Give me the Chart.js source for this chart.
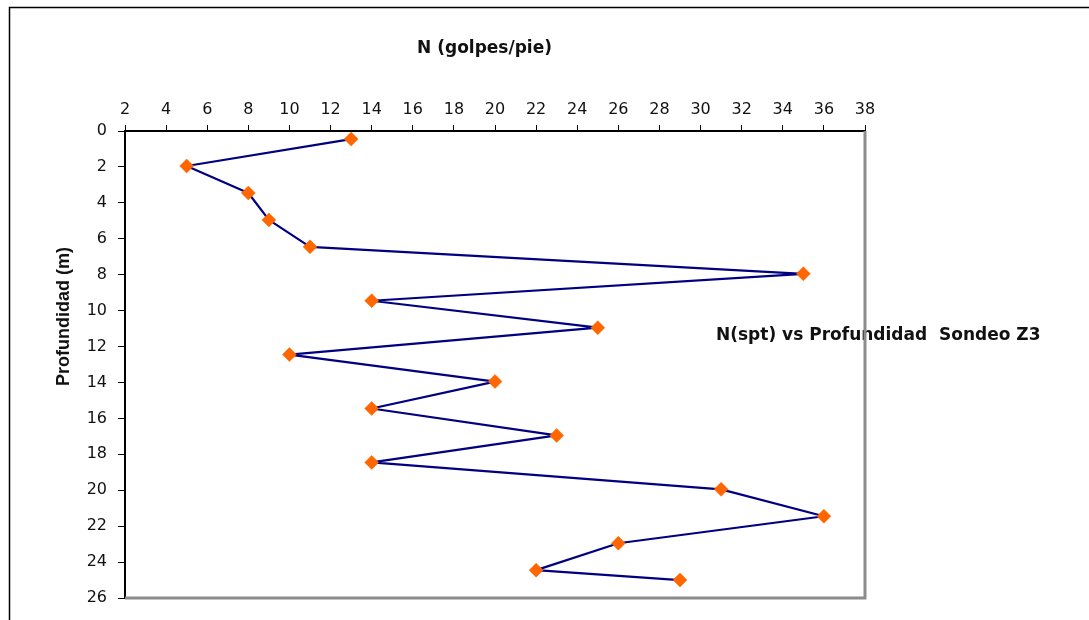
<!DOCTYPE html>
<html>
<head>
<meta charset="utf-8">
<title>N(spt) vs Profundidad Sondeo Z3</title>
<script src="https://cdn.jsdelivr.net/npm/chart.js@4/dist/chart.umd.min.js"></script>
<style>
  html, body { margin: 0; padding: 0; background: #fff; overflow: hidden; }
  #wrap { width: 1089px; height: 620px; }
</style>
</head>
<body>
<div id="wrap"><canvas id="c" width="1089" height="620"></canvas></div>
<script>
// SPT blow counts (N, golpes/pie) against sampling depth (m)
const depths = [0.45, 1.95, 3.45, 4.95, 6.45, 7.95, 9.45, 10.95, 12.45, 13.95, 15.45, 16.95, 18.45, 19.95, 21.45, 22.95, 24.45, 25.0];
const blows  = [13, 5, 8, 9, 11, 35, 14, 25, 10, 20, 14, 23, 14, 31, 36, 26, 22, 29];

// Axis tick values
const nTicks     = [2, 4, 6, 8, 10, 12, 14, 16, 18, 20, 22, 24, 26, 28, 30, 32, 34, 36, 38];
const depthTicks = [0, 2, 4, 6, 8, 10, 12, 14, 16, 18, 20, 22, 24, 26];

// Texts
const xTitle = 'N (golpes/pie)';
const yTitle = 'Profundidad (m)';
const chartTitle = 'N(spt) vs Profundidad  Sondeo Z3';

const points = blows.map((n, i) => ({ x: n, y: depths[i] }));

// Titles, outer frame and the grey right/bottom edges of the plot box
const decorations = {
  id: 'decorations',
  beforeDraw(chart) {
    const ctx = chart.ctx;
    ctx.save();
    ctx.fillStyle = '#fff';
    ctx.fillRect(0, 0, chart.width, chart.height);
    ctx.strokeStyle = '#000';
    ctx.lineWidth = 1.5;
    ctx.beginPath();
    ctx.moveTo(9.5, chart.height);
    ctx.lineTo(9.5, 7.5);
    ctx.lineTo(chart.width, 7.5);
    ctx.stroke();
    ctx.restore();
  },
  afterDraw(chart) {
    const ctx = chart.ctx;
    const a = chart.chartArea;
    ctx.save();
    ctx.fillStyle = '#111';

    ctx.font = 'bold 17px "DejaVu Sans"';
    ctx.textAlign = 'center';
    ctx.textBaseline = 'alphabetic';
    ctx.fillText(xTitle, 484.5, 53);

    ctx.textAlign = 'left';
    ctx.fillText(chartTitle, 716, 340);

    ctx.save();
    ctx.translate(64, 316.5);
    ctx.rotate(-Math.PI / 2);
    ctx.font = 'bold 18px "Liberation Sans"';
    ctx.textAlign = 'center';
    ctx.textBaseline = 'middle';
    ctx.fillText(yTitle, 0, 0);
    ctx.restore();

    ctx.strokeStyle = '#8c8c8c';
    ctx.lineWidth = 3;
    ctx.beginPath();
    ctx.moveTo(a.right, a.top);
    ctx.lineTo(a.right, a.bottom);
    ctx.lineTo(a.left, a.bottom);
    ctx.stroke();
    ctx.restore();
  }
};

new Chart(document.getElementById('c'), {
  type: 'scatter',
  data: {
    datasets: [{
      data: points,
      showLine: true,
      borderColor: '#000080',
      borderWidth: 2.2,
      borderJoinStyle: 'round',
      tension: 0,
      pointStyle: 'rectRot',
      pointRadius: 7,
      pointHoverRadius: 7,
      pointBackgroundColor: '#ff6600',
      pointBorderColor: '#ff6600',
      pointBorderWidth: 0.5
    }]
  },
  options: {
    responsive: false,
    animation: false,
    devicePixelRatio: 1,
    layout: { padding: { left: 0, top: 0, right: 224, bottom: 22 } },
    plugins: {
      legend: { display: false },
      tooltip: { enabled: false }
    },
    scales: {
      x: {
        type: 'linear',
        position: 'top',
        min: 2,
        max: 38,
        afterBuildTicks: s => { s.ticks = nTicks.map(v => ({ value: v })); },
        afterFit: s => { s.height = 131; },
        grid: { drawOnChartArea: false, drawTicks: true, tickLength: 6, color: '#000', lineWidth: 1 },
        border: { display: true, color: '#000', width: 2 },
        ticks: {
          color: '#111',
          font: { family: 'DejaVu Sans', size: 16 },
          padding: 6,
          maxRotation: 0,
          autoSkip: false
        }
      },
      y: {
        type: 'linear',
        position: 'left',
        reverse: true,
        min: 0,
        max: 26,
        afterBuildTicks: s => { s.ticks = depthTicks.map(v => ({ value: v })); },
        afterFit: s => { s.width = 125; },
        grid: { drawOnChartArea: false, drawTicks: true, tickLength: 7, color: '#000', lineWidth: 1 },
        border: { display: true, color: '#000', width: 2 },
        ticks: {
          color: '#111',
          font: { family: 'DejaVu Sans', size: 16 },
          padding: 11,
          autoSkip: false
        }
      }
    }
  },
  plugins: [decorations]
});
</script>
</body>
</html>
